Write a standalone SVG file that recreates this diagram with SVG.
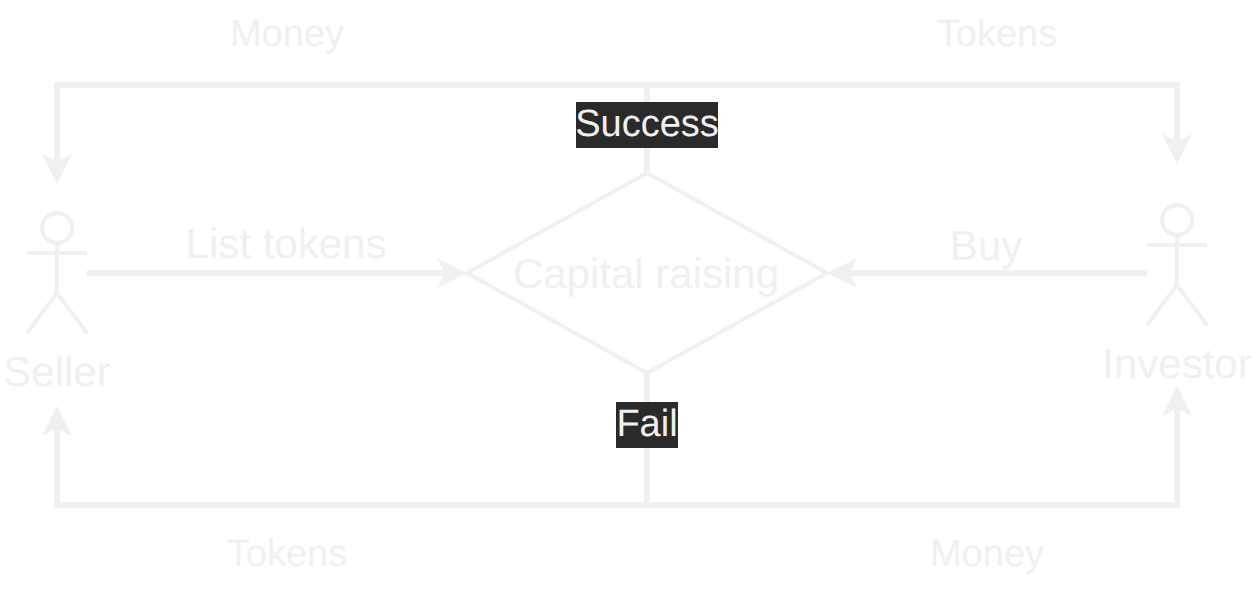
<svg xmlns="http://www.w3.org/2000/svg" width="1256" height="590" viewBox="0 0 1256 590">
<style>
.c{fill:none;stroke:#f0f0f0;stroke-width:6}
.s{fill:none;stroke:#f0f0f0;stroke-width:4}
text{font-family:"Liberation Sans",Arial,sans-serif;font-size:42px;fill:#f0f0f0;text-anchor:middle;text-rendering:geometricPrecision}
.m{font-size:38px}
.h{fill:#f0f0f0}
</style>
<defs>
<marker id="a" markerUnits="userSpaceOnUse" markerWidth="32" markerHeight="32" refX="8" refY="16" orient="auto"><path class="h" d="M0 1L30 16L0 31L7.500 16Z"/></marker>
</defs>
<rect width="1256" height="590" fill="#ffffff"/>
<g id="connectors">
<path class="c" d="M647 173V85H57V162" marker-end="url(#a)"/>
<path class="c" d="M647 173V85H1177V142" marker-end="url(#a)"/>
<path class="c" d="M647 373V505H57V428" marker-end="url(#a)"/>
<path class="c" d="M647 373V505H1177V408" marker-end="url(#a)"/>
<path class="c" d="M87 273H445" marker-end="url(#a)"/>
<path class="c" d="M1147 273H849" marker-end="url(#a)"/>
</g>
<g id="seller">
<circle class="s" cx="57" cy="228" r="15"/>
<path class="s" d="M57 243V293M27 253H87M27 333L57 293L87 333"/>
<text x="57" y="386">Seller</text>
</g>
<g id="investor">
<circle class="s" cx="1177" cy="220" r="15"/>
<path class="s" d="M1177 235V285M1147 245H1207M1147 325L1177 285L1207 325"/>
<text x="1177" y="378">Investor</text>
</g>
<g id="capital-raising">
<path class="s" d="M647 173L827 273L647 373L467 273Z"/>
<text x="646" y="288">Capital raising</text>
</g>
<g id="labels">
<text x="286" y="258">List tokens</text>
<text x="986" y="260">Buy</text>
<text class="m" x="287" y="46">Money</text>
<text class="m" x="997" y="46">Tokens</text>
<text class="m" x="287" y="566">Tokens</text>
<text class="m" x="987" y="566">Money</text>
<rect x="576" y="102" width="142" height="46" fill="#2a2a2a"/>
<text class="m" x="647" y="136">Success</text>
<rect x="616" y="402" width="62" height="46" fill="#2a2a2a"/>
<text class="m" x="647" y="436">Fail</text>
</g>
</svg>
